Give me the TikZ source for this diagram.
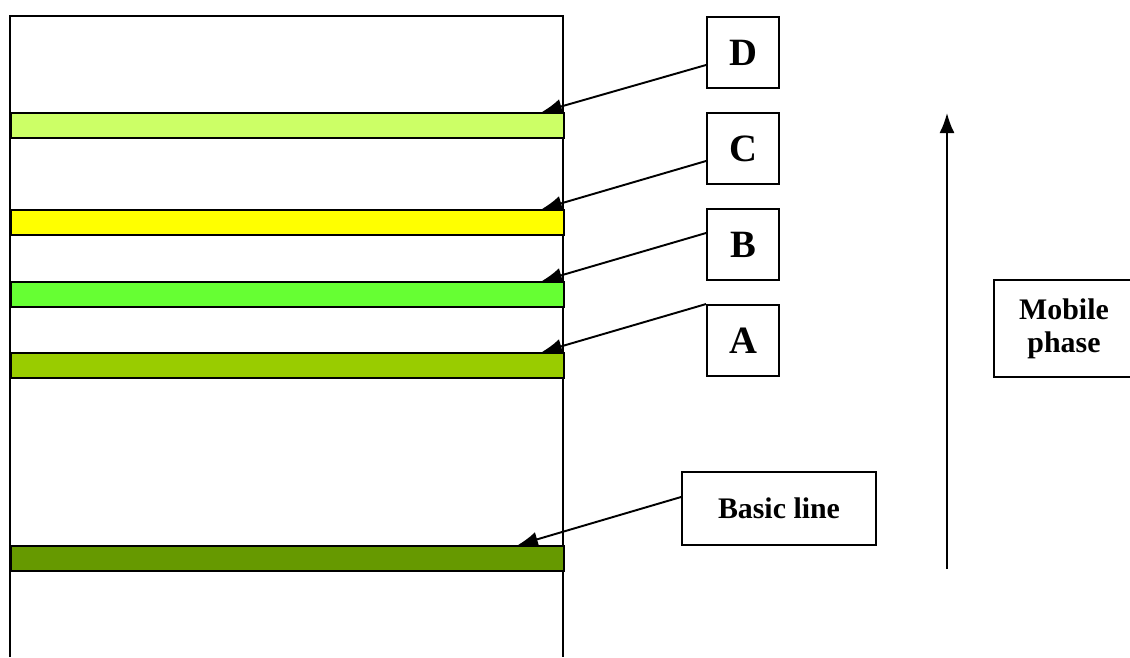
\documentclass[tikz,border=0pt]{standalone}
\usepackage{fontspec}
\setmainfont{Liberation Serif}
\usetikzlibrary{arrows.meta}

\definecolor{bandD}{HTML}{CCFF66}
\definecolor{bandC}{HTML}{FFFF00}
\definecolor{bandB}{HTML}{66FF33}
\definecolor{bandA}{HTML}{99CC00}
\definecolor{bandBase}{HTML}{669900}

\begin{document}
\begin{tikzpicture}[x=0.02cm, y=-0.02cm,
  spot/.style = {draw, line width=1.1pt, fill=white, inner sep=0pt, minimum width=1.44cm, minimum height=1.42cm, font=\fontsize{22}{26}\selectfont\bfseries},
  tag/.style = {draw, line width=1.1pt, fill=white, inner sep=0pt, align=center, font=\fontsize{17}{19}\selectfont\bfseries},
  band/.style = {draw, line width=1.1pt, anchor=north west, inner sep=0pt, minimum width=11.06cm, minimum height=0.5cm},
  pointer/.style = {-{Latex[length=0.4cm, width=0.3cm]}, line width=1.1pt}]
\useasboundingbox (0,0) rectangle (1130,657);
% plate
\draw[line width=1.1pt] (10,657) -- (10,16) -- (563,16) -- (563,657);
\node[band, fill=bandD] (bD) at (10,112) {};
\node[band, fill=bandC] (bC) at (10,209) {};
\node[band, fill=bandB] (bB) at (10,281) {};
\node[band, fill=bandA] (bA) at (10,352) {};
\node[band, fill=bandBase] (base) at (10,545) {};
% spots
\node[spot] (D) at (743,52.5) {D};
\node[spot] (C) at (743,148.5) {C};
\node[spot] (B) at (743,244.5) {B};
\node[spot] (A) at (743,340.5) {A};
\node[tag, minimum width=3.88cm, minimum height=1.46cm] (basic) at (779,508.5) {Basic line};
\node[tag, minimum width=2.8cm, minimum height=1.94cm] (mobile) at (1064,328.5) {Mobile\\phase};
\draw[pointer] ([yshift=-0.25cm]D.west) -- ([xshift=-0.46cm]bD.north east);
\draw[pointer] ([yshift=-0.25cm]C.west) -- ([xshift=-0.46cm]bC.north east);
\draw[pointer] ([yshift=0.23cm]B.west) -- ([xshift=-0.46cm]bB.north east);
\draw[pointer] (A.north west) -- ([xshift=-0.46cm]bA.north east);
\draw[pointer] ([yshift=0.23cm]basic.west) -- ([xshift=-0.94cm]base.north east);
% solvent front
\coordinate (low) at (947,569);
\coordinate (top) at (947,113);
\draw[pointer] (low) -- (top);
\end{tikzpicture}
\end{document}
